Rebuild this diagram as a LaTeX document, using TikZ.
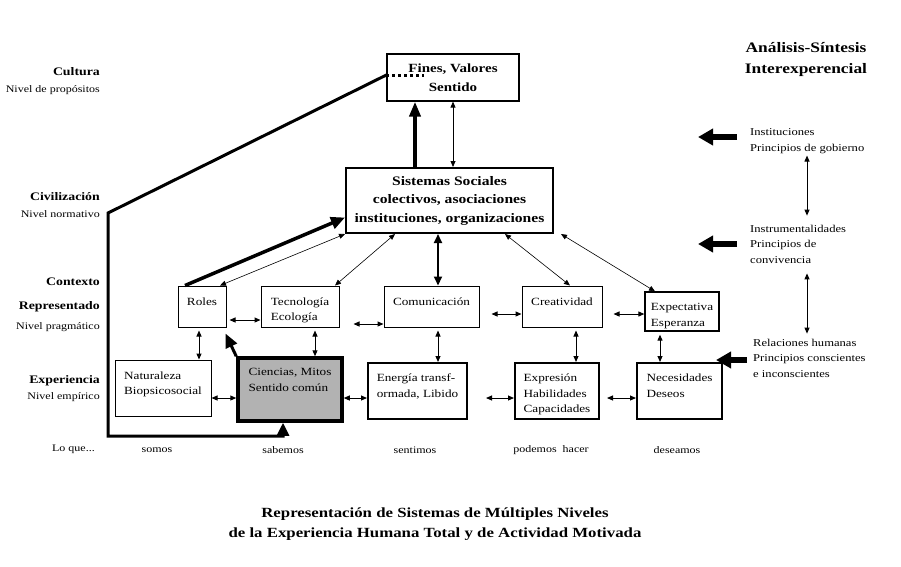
\documentclass[tikz,border=0pt]{standalone}
\usepackage{fontspec}
\setmainfont{Liberation Serif}[FakeStretch=1.2]
\usetikzlibrary{arrows.meta, positioning}
\definecolor{ciengray}{RGB}{178,178,178}
\tikzset{%
>={Triangle[width=5pt,length=6pt]},
  % Specifications for style of nodes:
            box/.style = {rectangle, draw=black, line width=1pt, inner sep=0pt,
                            label={[anchor=north, inner sep=0pt, align=left, yshift=-12pt,
                            font=\fontsize{11}{15.5}\selectfont]north:#1}},
            heavybox/.style = {box={#1}, line width=2pt},
            level/.style = {anchor=east, align=right, inner sep=0pt,
                            font=\fontsize{10}{17}\selectfont},
            side/.style = {anchor=west, align=left, inner sep=0pt,
                            font=\fontsize{10.5}{15.5}\selectfont},
            word/.style = {inner sep=0pt, font=\fontsize{10}{12}\selectfont},
  % Specifications for style of connectors:
            link/.style = {<->, line width=1pt},
            thinlink/.style = {<->, line width=0.6pt},
            fatarrow/.style = {-{Triangle[width=12pt,length=14pt]}, line width=3.5pt},
            bigarrow/.style = {-{Triangle[width=16pt,length=15pt]}, line width=6pt}
}

\begin{document}
\begin{tikzpicture}[x=1pt, y=-1pt]
                        \useasboundingbox (0,0) rectangle (901,566);
                        % upper levels
                        \node[draw, line width=1.2pt, inner sep=0pt, align=center, minimum width=132pt, minimum height=47pt,
                              font=\bfseries\fontsize{12.5}{19}\selectfont] (fines) at (453,77.5) {Fines, Valores\\Sentido};
                        \node[draw, line width=2pt, inner sep=0pt, align=center, minimum width=207pt, minimum height=65pt,
                              font=\bfseries\fontsize{13}{18.5}\selectfont] (sis) at (449.5,200.5)
                              {Sistemas Sociales\\colectivos, asociaciones\\instituciones, organizaciones};
                        % context row
                        \node[box=Roles, minimum width=48pt, minimum height=41pt] (roles) at (202,306.5) {};
                        \node[box={Tecnología\\Ecología}, minimum width=78pt, minimum height=41pt] (tec) at (300,306.5) {};
                        \node[box=Comunicación, minimum width=95pt, minimum height=41pt] (com) at (431.5,306.5) {};
                        \node[box=Creatividad, minimum width=80pt, minimum height=41pt] (cre) at (562,306.5) {};
                        \node[box={Expectativa\\Esperanza}, line width=1.3pt, minimum width=74pt, minimum height=39pt] (expc) at (682,311.5) {};
                        % experience row
                        \node[box={Naturaleza\\Biopsicosocial}, minimum width=96pt, minimum height=56pt] (nat) at (163,388) {};
                        \node[box={Ciencias, Mitos\\Sentido común}, line width=3.5pt, fill=ciengray, minimum width=104pt, minimum height=63pt] (cien) at (290,389.5) {};
                        \node[heavybox={Energía transf-\\ormada, Libido}, minimum width=99pt, minimum height=56pt] (ene) at (417.5,391) {};
                        \node[heavybox={Expresión\\Habilidades\\Capacidades}, minimum width=84pt, minimum height=56pt] (expr) at (557,391) {};
                        \node[heavybox={Necesidades\\Deseos}, minimum width=85pt, minimum height=56pt] (nec) at (679.5,391) {};
                        % levels on the left
                        \node[level] (cult) at (100,81.5) {{\bfseries\fontsize{11.5}{17}\selectfont Cultura}\\Nivel de propósitos};
                        \node[level] (civ) at (100,205) {{\bfseries\fontsize{11.5}{17}\selectfont Civilización}\\Nivel normativo};
                        \node[level, font=\bfseries\fontsize{11.5}{17}\selectfont] (ctx) at (100,282) {Contexto};
                        \node[level, font=\fontsize{10}{20}\selectfont] (rep) at (100,317) {{\bfseries\fontsize{11.5}{20}\selectfont Representado}\\Nivel pragmático};
                        \node[level, font=\fontsize{10}{16}\selectfont] (emp) at (100,389) {{\bfseries\fontsize{11.5}{16}\selectfont Experiencia}\\Nivel empírico};
                        \node[level] (loque) at (95,449) {Lo que...};
                        % what we ...
                        \node[word] (somos) at (157,450) {somos};
                        \node[word] (sabemos) at (283,450) {sabemos};
                        \node[word] (sentimos) at (415,450) {sentimos};
                        \node[word] (podemos) at (551,450) {podemos\ \ hacer};
                        \node[word] (deseamos) at (677,450) {deseamos};
                        % right column
                        \node[align=center, inner sep=0pt, font=\bfseries\fontsize{14.5}{21}\selectfont] (anal) at (806,59.5) {Análisis-Síntesis\\Interexperencial};
                        \node[side] (inst) at (750,141) {Instituciones\\Principios de gobierno};
                        \node[side] (instr) at (750,244) {Instrumentalidades\\Principios de\\convivencia};
                        \node[side] (rel) at (753,358) {Relaciones humanas\\Principios conscientes\\e inconscientes};
                        % title
                        \node[align=center, inner sep=0pt, font=\bfseries\fontsize{14}{19.5}\selectfont] (title) at (435,524)
                              {Representación de Sistemas de Múltiples Niveles\\de la Experiencia Humana Total y de Actividad Motivada};
                        \coordinate (civcorner) at (108,213);
                        \coordinate (basecorner) at (108,436);

                        % connectors
                        \draw[line width=3pt, -{Triangle[width=12pt,length=13pt]}] ([yshift=2.5pt]fines.west) -- (civcorner)
                              -- (basecorner) -| ([xshift=-7pt]cien.south);
                        \draw[line width=3pt, dash pattern=on 3pt off 3pt] ([yshift=2.5pt]fines.west) -- ++(38,0);
                        \draw[line width=4pt, -{Triangle[width=11pt,length=15pt]}] ([xshift=-34.5pt]sis.north) -- ([xshift=-34.5pt]sis.north |- fines.south);
                        \draw[link, line width=0.8pt] (fines.south) -- (fines.south |- sis.north);
                        \draw[fatarrow] ([xshift=-17pt]roles.north) -- ([yshift=-17pt]sis.west);
                        \draw[thinlink] (sis.south west) -- ([xshift=18pt]roles.north);
                        \draw[thinlink] ([xshift=-54.5pt]sis.south) -- ([xshift=35pt]tec.north);
                        \draw[<->, >={Triangle[width=8pt,length=9pt]}, line width=2pt] ([xshift=-11.5pt]sis.south) -- ([xshift=-11.5pt]sis.south |- com.north);
                        \draw[thinlink] ([xshift=55.5pt]sis.south) -- ([xshift=8pt]cre.north);
                        \draw[thinlink] ([xshift=7pt]sis.south east) -- ([xshift=-27pt]expc.north);
                        \draw[link, shorten <=3pt] ([yshift=-13.5pt]roles.east) -- ([yshift=-13.5pt]tec.west);
                        \draw[link, shorten <=14pt] ([yshift=-17.5pt]tec.east) -- ([yshift=-17.5pt]com.west);
                        \draw[link, shorten <=12pt] ([yshift=-7.5pt]com.east) -- ([yshift=-7.5pt]cre.west);
                        \draw[link, shorten <=11pt] ([yshift=-7.5pt]cre.east) -- ([yshift=-7.5pt]cre.east -| expc.west);
                        \draw[link] ([yshift=-10pt]nat.east) -- ([yshift=-10pt]nat.east -| cien.west);
                        \draw[link] ([yshift=-8.5pt]cien.east) -- ([yshift=-8.5pt]cien.east -| ene.west);
                        \draw[link, shorten <=18pt] ([yshift=-7pt]ene.east) -- ([yshift=-7pt]expr.west);
                        \draw[link, shorten <=7pt] ([yshift=-7pt]expr.east) -- ([yshift=-7pt]nec.west);
                        \draw[link, shorten <=3pt] ([xshift=-3pt]roles.south) -- ([xshift=-3pt]roles.south |- nat.north);
                        \draw[link, shorten <=3pt] ([xshift=15pt]tec.south) -- ([xshift=15pt]tec.south |- cien.north);
                        \draw[link, shorten <=3pt] ([xshift=6.5pt]com.south) -- ([xshift=6.5pt]com.south |- ene.north);
                        \draw[link, shorten <=3pt] ([xshift=14pt]cre.south) -- ([xshift=14pt]cre.south |- expr.north);
                        \draw[link, shorten <=3pt] ([xshift=-22pt]expc.south) -- ([xshift=-22pt]expc.south |- nec.north);
                        \draw[fatarrow, line width=3pt] (cien.north west) -- ([shift={(-1pt,-6pt)}]roles.south east);
                        \draw[bigarrow] ([shift={(-13pt,4pt)}]inst.west) -- ++(-39,0);
                        \draw[bigarrow] ([xshift=-13pt]instr.west) -- ++(-39,0);
                        \draw[bigarrow] ([shift={(-6pt,-2pt)}]rel.west) -- ([xshift=-7pt,yshift=-2pt]rel.west -| nec.east);
                        \draw[link, shorten <=2pt, shorten >=9pt] ([xshift=57pt]inst.south west) -- ([xshift=57pt]inst.south west |- instr.north);
                        \draw[link, shorten <=10pt, shorten >=5pt] ([xshift=57pt]instr.south west) -- ([xshift=57pt]instr.south west |- rel.north);
                    \end{tikzpicture}
\end{document}
